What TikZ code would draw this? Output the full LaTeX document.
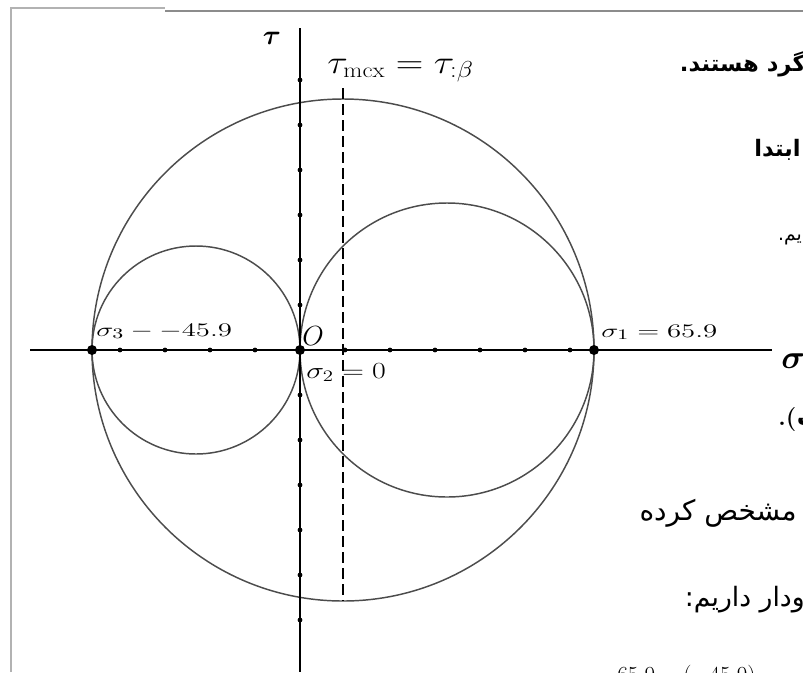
\documentclass[tikz,border=0pt]{standalone}
\usepackage{amsmath,bm,graphicx}
\usepackage{fontspec}
\newfontfamily\arabicfont[Script=Arabic]{DejaVu Sans}
\TeXXeTstate=1
\begin{document}
\begin{tikzpicture}[x=0.75pt,y=-0.75pt,
  axisline/.style={line width=1.3pt,black},
  circ/.style={draw=black!70,line width=1.1pt},
  tickdot/.style={circle,fill=black,inner sep=0pt,minimum size=3.6pt},
  bigdot/.style={circle,fill=black,inner sep=0pt,minimum size=7.5pt},
  lbl/.style={inner sep=0pt},
  fa/.style={inner sep=0pt,font=\arabicfont},
  fab/.style={inner sep=0pt,font=\arabicfont\bfseries},
  dashline/.style={line width=0.9pt,dash pattern=on 8pt off 4pt},
  frame/.style={draw=black!30,line width=0.8pt}]
\useasboundingbox (0,0) rectangle (803,672);
\clip (0,0) rectangle (803,672);
\fill[white] (0,0) rectangle (803,672);
% scan frame
\coordinate (f1) at (11,672);
\coordinate (f2) at (11,8);
\coordinate (f3) at (165,8);
\coordinate (f4) at (165,11);
\coordinate (f5) at (803,11);
\draw[frame] (f1) -- (f2) -- (f3);
\draw[frame,draw=black!45] (f4) -- (f5);
% circles
\draw[circ] (343,350) circle (251);
\draw[circ] (196,350) circle (104);
\draw[circ] (447,350) circle (147);
% axes
\coordinate (sl) at (30,350);
\coordinate (sr) at (772,350);
\coordinate (tt) at (300,28);
\coordinate (tb) at (300,672);
\draw[axisline] (sl) -- (sr);
\draw[axisline] (tt) -- (tb);
% dashed line
\coordinate (dt) at (343,88);
\coordinate (db) at (343,601);
\draw[dashline] (dt) -- (db);
% ticks
\foreach \k in {-4,-3,-2,-1,1,2,3,4,5,6}{
  \node[tickdot] (sx\k) at ({300+45*\k},350) {};
}
\foreach \k in {-6,-5,-4,-3,-2,-1,1,2,3,4,5,6}{
  \node[tickdot] (ty\k) at (300,{350+45*\k}) {};
}
% main points
\node[bigdot] (s3) at (92,350) {};
\node[bigdot] (o) at (300,350) {};
\node[bigdot] (s1) at (594,350) {};
% labels
\node[lbl,font=\fontsize{22}{24}\selectfont] (tau) at (272,38) {$\bm{\tau}$};
\node[lbl,font=\fontsize{26}{28}\selectfont,anchor=west] (sig) at (781,361) {$\bm{\sigma}$};
\node[lbl,font=\fontsize{23}{26}\selectfont,anchor=base west] (tmax) at (327,73) {\scalebox{1.15}[1]{$\tau_{\mathrm{mcx}} = \tau_{:\beta}$}};
\node[lbl,font=\fontsize{15}{17}\selectfont,anchor=base west] (l3) at (96,336) {\scalebox{1.5}[1]{$\sigma_3 - -45.9$}};
\node[lbl,font=\fontsize{15}{17}\selectfont,anchor=base west] (l1) at (601,337) {\scalebox{1.5}[1]{$\sigma_1 = 65.9$}};
\node[lbl,font=\fontsize{18}{20}\selectfont,anchor=base west] (l2) at (306,378) {\scalebox{1.3}[1]{$\sigma_2 = 0$}};
\node[lbl,font=\fontsize{21}{23}\selectfont,anchor=base west] (lo) at (302,345) {$O$};
% right-hand page text fragments
\node[fab,font=\arabicfont\bfseries\fontsize{17}{20}\selectfont,anchor=east] (p1) at (806,64) {\beginR گرد هستند.\endR};
\node[fab,font=\arabicfont\bfseries\fontsize{17}{20}\selectfont,anchor=east] (p2) at (801,150) {\beginR ابتدا\endR};
\node[fa,font=\arabicfont\fontsize{14}{16}\selectfont,anchor=east] (p3) at (802,240) {\beginR یم.\endR};
\node[lbl,font=\bfseries\fontsize{18}{20}\selectfont,anchor=base west] (p4) at (778,425) {.(\kern0.5pt{\arabicfont ب}};
\node[fa,font=\arabicfont\fontsize{21}{24}\selectfont,anchor=east] (p5) at (797,513) {\beginR مشخص کرده\endR};
\node[fa,font=\arabicfont\fontsize{20}{23}\selectfont,anchor=east] (p6) at (805,600) {\beginR ودار داریم:\endR};
\node[lbl,font=\fontsize{19}{21}\selectfont,anchor=north west] (p7) at (617,665) {$65.9-(-45.9)$};
\end{tikzpicture}
\end{document}
